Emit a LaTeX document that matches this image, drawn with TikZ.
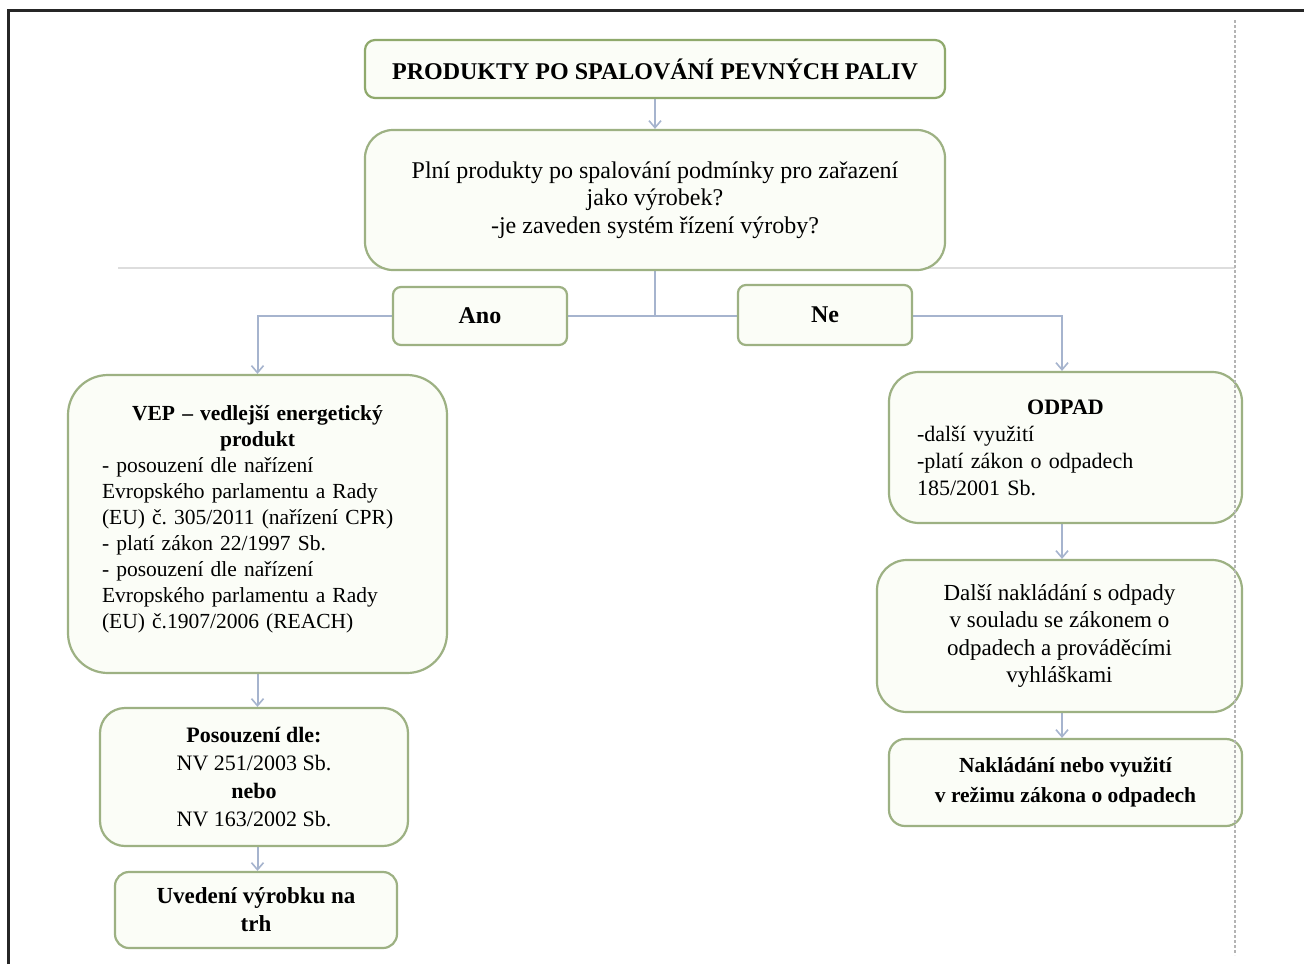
\documentclass[tikz,border=0pt]{standalone}
\usepackage{fontspec}
\setmainfont{Liberation Serif}
\usetikzlibrary{arrows.meta,backgrounds}

\definecolor{boxline}{HTML}{9DB183}
\definecolor{topline}{HTML}{8FA96C}
\definecolor{boxfill}{HTML}{FBFDF7}
\definecolor{connline}{HTML}{A6B4CE}
\definecolor{guide}{HTML}{B4B4B4}
\definecolor{frame}{HTML}{262626}

\tikzset{
  flowbox/.style={draw=boxline, line width=2.2pt, fill=boxfill, inner sep=0pt,
    align=center, font=\fontsize{21.5}{25}\selectfont\frenchspacing},
  conn/.style={draw=connline, line width=2pt},
  connarrow/.style={conn, -{Straight Barb[length=7pt,width=12pt,line width=1.6pt]}},
}

\begin{document}
\frenchspacing
\begin{tikzpicture}[x=1pt,y=-1pt]
\useasboundingbox (0,0) rectangle (1304,964);

% page frame and guide lines
\draw[frame, line width=3pt] (8,964) -- (8,10) -- (1304,10);
\draw[guide!45, line width=1.5pt] (118,268) -- (1235,268);

% boxes
\node[flowbox, draw=topline, rounded corners=10pt, minimum width=580pt, minimum height=58pt,
      font=\fontsize{24}{26}\selectfont\bfseries] (title) at (655,69)
  {PRODUKTY PO SPALOVÁNÍ PEVNÝCH PALIV};

\node[flowbox, rounded corners=28pt, minimum width=580pt, minimum height=140pt,
      font=\fontsize{24}{27.5}\selectfont] (question) at (655,200)
  {Plní produkty po spalování podmínky pro zařazení\\ jako výrobek?\\ -je zaveden systém řízení výroby?};

\node[flowbox, rounded corners=8pt, minimum width=174pt, minimum height=58pt,
      font=\fontsize{24}{26}\selectfont\bfseries] (ano) at (480,316) {Ano};
\node[flowbox, rounded corners=8pt, minimum width=174pt, minimum height=60pt,
      font=\fontsize{24}{26}\selectfont\bfseries] (ne) at (825,315) {Ne};

\node[flowbox, rounded corners=40pt, minimum width=379pt, minimum height=298pt,
      text width=311pt, align=left, font=\fontsize{21.5}{26}\selectfont\frenchspacing] (vep) at (257.5,524)
  {\centering{\bfseries VEP -- vedlejší energetický\\ produkt}\par
   \raggedright
   - posouzení dle nařízení\\
   Evropského parlamentu a Rady\\
   (EU) č. 305/2011 (nařízení CPR)\\
   - platí zákon 22/1997 Sb.\\
   - posouzení dle nařízení\\
   Evropského parlamentu a Rady\\
   (EU) č.1907/2006 (REACH)\par\vspace{-12pt}\null};

\node[flowbox, rounded corners=25pt, minimum width=308pt, minimum height=138pt,
      font=\fontsize{22}{28}\selectfont] (posouzeni) at (254,777)
  {\textbf{Posouzení dle:}\\ NV 251/2003 Sb.\\ \textbf{nebo}\\ NV 163/2002 Sb.};

\node[flowbox, rounded corners=14pt, minimum width=282pt, minimum height=76pt,
      font=\fontsize{23}{28}\selectfont\bfseries] (uvedeni) at (256,910)
  {Uvedení výrobku na\\ trh};

\node[flowbox, rounded corners=30pt, minimum width=353pt, minimum height=151pt,
      text width=297pt, align=left, font=\fontsize{22}{27}\selectfont\frenchspacing] (odpad) at (1065.5,447.5)
  {\centering{\bfseries ODPAD}\par
   \raggedright
   -další využití\\
   -platí zákon o odpadech\\
   185/2001 Sb.};

\node[flowbox, rounded corners=30pt, minimum width=365pt, minimum height=152pt,
      font=\fontsize{23}{27.5}\selectfont] (dalsi) at (1059.5,636)
  {Další nakládání s odpady\\ v souladu se zákonem o\\ odpadech a prováděcími\\ vyhláškami};

\node[flowbox, rounded corners=16pt, minimum width=353pt, minimum height=87pt,
      font=\fontsize{21.5}{30}\selectfont\bfseries] (naklad) at (1065.5,782.5)
  {Nakládání nebo využití\\ v režimu zákona o odpadech};

% connectors, kept behind the boxes
\begin{scope}[on background layer]
  \fill[white] (0,0) rectangle (1304,964);
  \coordinate (split) at (question.south |- ano.center);
  \draw[connarrow] (title) -- (question);
  \draw[conn] (question.south) -- (split);
  \draw[connarrow] (split) -| (vep.north);
  \draw[connarrow] (split) -| ([xshift=-3.5pt]odpad.north);
  \draw[connarrow] (vep.south) -- (vep.south |- posouzeni.north);
  \draw[connarrow] (vep.south |- posouzeni.south) -- (vep.south |- uvedeni.north);
  \draw[connarrow] ([xshift=-3.5pt]odpad.south) -- ([xshift=2.5pt]dalsi.north);
  \draw[connarrow] ([xshift=2.5pt]dalsi.south) -- ([xshift=-3.5pt]naklad.north);
\end{scope}

% dashed margin guide
\draw[guide, line width=2pt, dash pattern=on 3pt off 2pt] (1235,20) -- (1235,955);
\end{tikzpicture}
\end{document}
